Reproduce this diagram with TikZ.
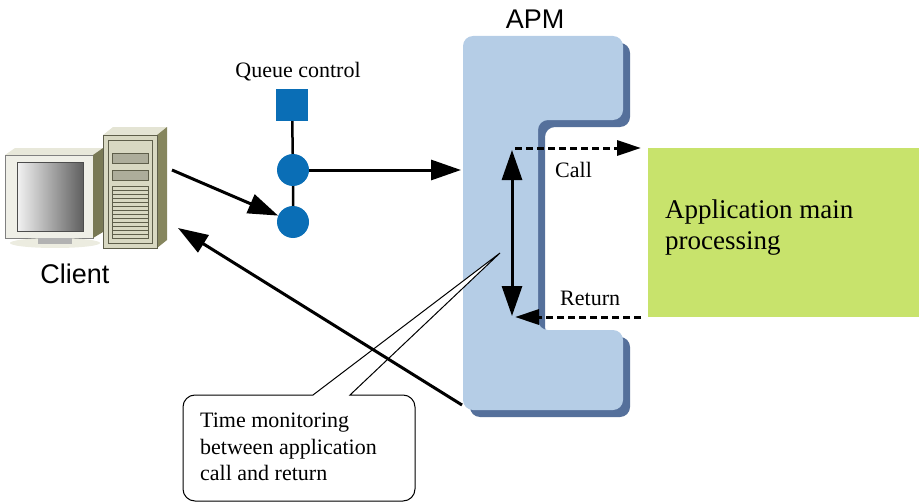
\documentclass[tikz,border=0pt]{standalone}
\usepackage{fontspec}
\setmainfont{Liberation Serif}
\setsansfont{Liberation Sans}
\usetikzlibrary{arrows.meta}
\definecolor{apmblue}{HTML}{B5CDE6}
\definecolor{apmshade}{HTML}{55709B}
\definecolor{qblue}{HTML}{0A6EB6}
\definecolor{appgreen}{HTML}{C8E36C}
\definecolor{pcface}{HTML}{D8D8C2}
\definecolor{pcside}{HTML}{86865E}
\definecolor{pcline}{HTML}{5E5E4A}
\begin{document}
\begin{tikzpicture}[x=1pt,y=-1pt,
  txt/.style={font=\fontsize{22}{26.5}\selectfont,inner sep=0pt},
  sans/.style={font=\sffamily\fontsize{27}{30}\selectfont,inner sep=0pt},
  big/.style={line width=3pt,-{Triangle[length=30pt,width=20pt]}},
  dotted arrow/.style={line width=3pt,dash pattern=on 7pt off 4pt,-{Triangle[length=24pt,width=15pt]}},
  qnode/.style={fill=qblue,inner sep=0pt,minimum size=32pt}]
\useasboundingbox (0,0) rectangle (919,503);
% APM block with its shadow
\fill[apmshade,rounded corners=10pt,shift={(7,7)}] (463,36) -- (623,36) -- (623,120) -- (538,120) -- (538,330) -- (623,330) -- (623,410) -- (463,410) -- cycle;
\fill[apmblue,rounded corners=10pt] (463,36) -- (623,36) -- (623,120) -- (538,120) -- (538,330) -- (623,330) -- (623,410) -- (463,410) -- cycle;
\node[sans] (apm) at (535,19) {APM};
% client computer
\fill[pcface!60!white] (5,155) -- (15,148) -- (103,148) -- (93,155) -- cycle;
\fill[pcface!40!white,draw=gray] (5,155) rectangle (93,238);
\fill[pcside!90!black] (93,155) -- (103,148) -- (103,232) -- (93,238) -- cycle;
\shade[left color=white!90!gray,right color=gray!75!black,draw=gray!60!black] (17,162) rectangle (83,231);
\fill[pcface!50!white] (55,243) ellipse (45 and 5);
\fill[gray!60] (38,238) rectangle (72,244);
\fill[pcface!70!white] (103,135) -- (113,127) -- (167,127) -- (157,135) -- cycle;
\fill[pcside] (157,135) -- (167,127) -- (167,240) -- (157,248) -- cycle;
\draw[fill=pcface,draw=pcline] (103,135) rectangle (157,248);
\draw[draw=pcline] (108,140) rectangle (152,243);
\draw[fill=pcface!80!black,draw=pcline] (112,153) rectangle (148,163);
\draw[fill=pcface!80!black,draw=pcline] (112,170) rectangle (148,180);
\draw[draw=pcline] (112,186) rectangle (148,238);
\foreach \y in {190,194,...,234}
  \draw[pcline,thin] (112,\y) -- (148,\y);
\node[sans] (client) at (75,274) {Client};
% queue control
\node[txt] (qlabel) at (298,72) {Queue control};
\node[qnode] (Q0) at (292,105) {};
\node[qnode,circle] (Q1) at (293,170) {};
\node[qnode,circle] (Q2) at (293,222) {};
\draw[line width=2.5pt] (Q0) -- (Q1) -- (Q2);
% application
\fill[appgreen] (648,148) rectangle (919,317);
\node[txt,font=\fontsize{27}{31}\selectfont,align=left,anchor=west] (app) at (665,228) {Application main\\processing};
% callout
\draw[fill=white,line width=1pt] (313,395) [rounded corners=12pt] -- (183,395) -- (183,501) -- (415,501) -- (415,395) [sharp corners] -- (350,395) -- (500,253) -- cycle;
\node[txt,align=left,anchor=north west] (note) at (200,413) {Time monitoring\\between application\\call and return};
% connectors
\coordinate (c0) at (172,170);
\coordinate (c1) at (178,228);
\coordinate (a0) at (461,170);
\coordinate (a1) at (462,405);
\coordinate (t0) at (515,148);
\coordinate (t1) at (641,148);
\coordinate (t2) at (641,317);
\coordinate (t3) at (515,317);
\draw[big] (c0) -- (Q2);
\draw[big] (Q1) -- (a0);
\draw[big] (a1) -- (c1);
\draw[big,{Triangle[length=30pt,width=20pt]}-{Triangle[length=30pt,width=20pt]}] (512,150) -- (512,316);
\draw[dotted arrow] (t0) -- (t1);
\draw[dotted arrow] (t2) -- (t3);
\node[txt,anchor=west] (call) at (555,170) {Call};
\node[txt,anchor=west] (ret) at (560,298) {Return};
\end{tikzpicture}
\end{document}
